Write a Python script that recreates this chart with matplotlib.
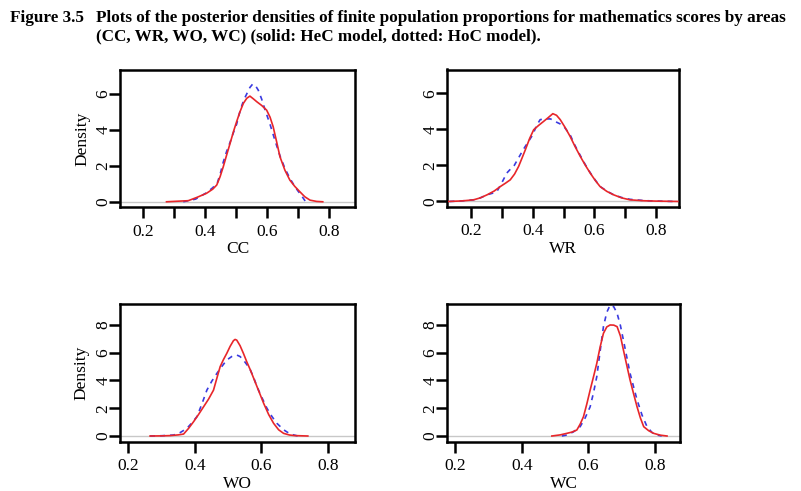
import matplotlib
matplotlib.use("Agg")
import matplotlib.pyplot as plt

plt.rcParams['font.family'] = ['Liberation Serif', 'DejaVu Serif']

title_num = "Figure 3.5"
title_line1 = "Plots of the posterior densities of finite population proportions for mathematics scores by areas"
title_line2 = "(CC, WR, WO, WC) (solid: HeC model, dotted: HoC model)."

areas = ["CC", "WR", "WO", "WC"]

# CC
cc_hec_x = [0.276, 0.310, 0.346, 0.375, 0.405, 0.425, 0.438, 0.449, 0.459, 0.470, 0.481, 0.492, 0.502, 0.513, 0.524, 0.535, 0.545, 0.556, 0.567, 0.583, 0.599, 0.610, 0.620, 0.631, 0.642, 0.658, 0.674, 0.690, 0.706, 0.722, 0.739, 0.760, 0.780]
cc_hec_y = [0.0, 0.03, 0.06, 0.25, 0.47, 0.70, 0.93, 1.40, 1.94, 2.60, 3.24, 3.90, 4.44, 5.00, 5.47, 5.75, 5.87, 5.72, 5.56, 5.35, 5.09, 4.70, 4.17, 3.35, 2.50, 1.75, 1.20, 0.85, 0.56, 0.28, 0.09, 0.02, 0.0]
cc_hoc_x = [0.330, 0.370, 0.405, 0.425, 0.440, 0.450, 0.459, 0.470, 0.481, 0.492, 0.502, 0.511, 0.520, 0.528, 0.535, 0.545, 0.554, 0.563, 0.572, 0.583, 0.594, 0.602, 0.610, 0.626, 0.642, 0.658, 0.674, 0.688, 0.700, 0.710, 0.717, 0.725]
cc_hoc_y = [0.0, 0.15, 0.50, 0.78, 1.05, 1.60, 2.20, 2.80, 3.30, 3.85, 4.30, 4.90, 5.40, 5.75, 6.00, 6.35, 6.54, 6.45, 6.20, 5.70, 5.10, 4.70, 4.30, 3.40, 2.55, 1.85, 1.30, 0.90, 0.60, 0.38, 0.20, 0.0]

# WR
wr_hec_x = [0.128, 0.170, 0.208, 0.230, 0.252, 0.275, 0.295, 0.312, 0.327, 0.341, 0.354, 0.365, 0.376, 0.390, 0.403, 0.419, 0.435, 0.450, 0.465, 0.477, 0.489, 0.505, 0.521, 0.537, 0.554, 0.570, 0.586, 0.602, 0.618, 0.640, 0.662, 0.688, 0.715, 0.760, 0.800, 0.870]
wr_hec_y = [0.0, 0.03, 0.09, 0.20, 0.37, 0.58, 0.83, 1.02, 1.20, 1.52, 1.94, 2.40, 2.87, 3.50, 3.98, 4.22, 4.44, 4.65, 4.87, 4.78, 4.54, 4.10, 3.61, 3.05, 2.50, 2.02, 1.58, 1.18, 0.83, 0.56, 0.37, 0.20, 0.09, 0.04, 0.02, 0.0]
wr_hoc_x = [0.130, 0.170, 0.208, 0.230, 0.252, 0.270, 0.284, 0.300, 0.316, 0.328, 0.340, 0.355, 0.370, 0.385, 0.400, 0.412, 0.424, 0.440, 0.457, 0.468, 0.478, 0.489, 0.499, 0.510, 0.521, 0.537, 0.554, 0.570, 0.586, 0.602, 0.618, 0.640, 0.662, 0.688, 0.715, 0.760, 0.800, 0.860]
wr_hoc_y = [0.0, 0.03, 0.09, 0.20, 0.37, 0.46, 0.56, 1.05, 1.58, 1.80, 2.00, 2.45, 2.90, 3.30, 3.70, 4.20, 4.54, 4.58, 4.58, 4.50, 4.39, 4.30, 4.20, 3.95, 3.70, 3.10, 2.55, 2.05, 1.60, 1.20, 0.83, 0.58, 0.37, 0.22, 0.12, 0.05, 0.02, 0.0]

# WO
wo_hec_x = [0.265, 0.300, 0.326, 0.350, 0.366, 0.381, 0.396, 0.411, 0.426, 0.441, 0.456, 0.466, 0.476, 0.486, 0.496, 0.506, 0.516, 0.521, 0.526, 0.536, 0.546, 0.556, 0.567, 0.577, 0.587, 0.597, 0.607, 0.622, 0.637, 0.652, 0.667, 0.685, 0.700, 0.740]
wo_hec_y = [0.0, 0.01, 0.03, 0.08, 0.14, 0.55, 1.03, 1.55, 2.10, 2.65, 3.30, 4.15, 4.99, 5.50, 5.95, 6.45, 6.86, 6.95, 6.90, 6.50, 5.95, 5.35, 4.75, 4.15, 3.55, 2.95, 2.35, 1.55, 0.91, 0.45, 0.19, 0.07, 0.03, 0.0]
wo_hoc_x = [0.265, 0.300, 0.336, 0.356, 0.376, 0.391, 0.406, 0.421, 0.436, 0.451, 0.466, 0.481, 0.496, 0.511, 0.526, 0.536, 0.546, 0.556, 0.567, 0.577, 0.587, 0.602, 0.617, 0.632, 0.647, 0.667, 0.687, 0.710]
wo_hoc_y = [0.0, 0.02, 0.07, 0.25, 0.55, 0.95, 1.39, 2.30, 3.30, 3.95, 4.50, 5.00, 5.47, 5.72, 5.83, 5.72, 5.47, 5.15, 4.75, 4.20, 3.55, 2.75, 1.99, 1.40, 0.91, 0.45, 0.14, 0.0]

# WC
wc_hec_x = [0.490, 0.515, 0.535, 0.550, 0.565, 0.575, 0.585, 0.595, 0.605, 0.615, 0.625, 0.635, 0.645, 0.655, 0.665, 0.676, 0.686, 0.696, 0.705, 0.715, 0.725, 0.736, 0.746, 0.756, 0.766, 0.781, 0.796, 0.816, 0.836]
wc_hec_y = [0.0, 0.08, 0.19, 0.28, 0.43, 0.85, 1.39, 2.30, 3.30, 4.25, 5.23, 6.40, 7.39, 7.85, 7.99, 7.98, 7.87, 7.20, 6.19, 5.10, 4.03, 3.00, 2.10, 1.30, 0.67, 0.38, 0.19, 0.06, 0.0]
wc_hoc_x = [0.520, 0.535, 0.555, 0.575, 0.590, 0.605, 0.615, 0.625, 0.635, 0.645, 0.655, 0.665, 0.676, 0.686, 0.696, 0.705, 0.715, 0.725, 0.736, 0.746, 0.761, 0.776, 0.791, 0.806, 0.820]
wc_hoc_y = [0.0, 0.07, 0.30, 0.67, 1.30, 2.10, 3.10, 4.27, 6.10, 7.87, 8.90, 9.42, 9.30, 8.83, 7.95, 6.90, 5.70, 4.51, 3.50, 2.60, 1.50, 0.67, 0.25, 0.07, 0.0]

hec_x = [cc_hec_x, wr_hec_x, wo_hec_x, wc_hec_x]
hec_y = [cc_hec_y, wr_hec_y, wo_hec_y, wc_hec_y]
hoc_x = [cc_hoc_x, wr_hoc_x, wo_hoc_x, wc_hoc_x]
hoc_y = [cc_hoc_y, wr_hoc_y, wo_hoc_y, wc_hoc_y]

top_xticks = [0.2, 0.3, 0.4, 0.5, 0.6, 0.7, 0.8]
top_xtick_labels = ["0.2", "", "0.4", "", "0.6", "", "0.8"]
bottom_xticks = [0.2, 0.4, 0.6, 0.8]
bottom_xtick_labels = ["0.2", "0.4", "0.6", "0.8"]
top_yticks = [0, 2, 4, 6]
bottom_yticks = [0, 2, 4, 6, 8]

W, H = 801, 491
fig = plt.figure(figsize=(W / 100, H / 100), dpi=100)

boxes = [(120, 355, 70, 207), (447, 679, 69.5, 206.7), (119.5, 355, 304, 441.7), (447, 680, 304, 441.7)]
xlims = [(0.126, 0.884), (0.122, 0.874), (0.173, 0.882), (0.175, 0.875)]
ylims = [(-0.29, 7.32), (-0.29, 7.32), (-0.41, 9.5), (-0.41, 9.5)]

for i in range(4):
    l, r, t, b = boxes[i]
    ax = fig.add_axes([l / W, 1 - b / H, (r - l) / W, (b - t) / H])
    ax.axhline(0, color="#c8c8c8", lw=1.0, zorder=1)
    ax.plot(hec_x[i], hec_y[i], color="#e8262a", lw=1.2, zorder=3)
    ax.plot(hoc_x[i], hoc_y[i], color="#3a3ae0", lw=1.2, ls=(0, (3, 3)), zorder=2)
    ax.set_xlim(*xlims[i])
    ax.set_ylim(*ylims[i])
    if i < 2:
        ax.set_xticks(top_xticks)
        ax.set_xticklabels(top_xtick_labels)
        yt = top_yticks
    else:
        ax.set_xticks(bottom_xticks)
        ax.set_xticklabels(bottom_xtick_labels)
        yt = bottom_yticks
    ax.set_yticks(yt)
    ax.set_yticklabels([str(v) for v in yt], rotation=90, va="center")
    ax.tick_params(axis="both", direction="out", length=8, width=1.8, labelsize=12.5)
    ax.tick_params(axis="x", pad=4)
    ax.tick_params(axis="y", pad=-2)
    for s in ax.spines.values():
        s.set_linewidth(1.8)
    ax.set_xlabel(areas[i], fontsize=12.5, labelpad=1)
    if i % 2 == 0:
        ax.set_ylabel("Density", fontsize=12.5, labelpad=4)

fs_title = 12.3
fig.text(10 / W, 1 - 18 / H, title_num, fontsize=fs_title, fontweight="bold", va="center", ha="left")
fig.text(96 / W, 1 - 18 / H, title_line1, fontsize=fs_title, fontweight="bold", va="center", ha="left")
fig.text(96 / W, 1 - 36 / H, title_line2, fontsize=fs_title, fontweight="bold", va="center", ha="left")

fig.savefig("out.png", dpi=100)
